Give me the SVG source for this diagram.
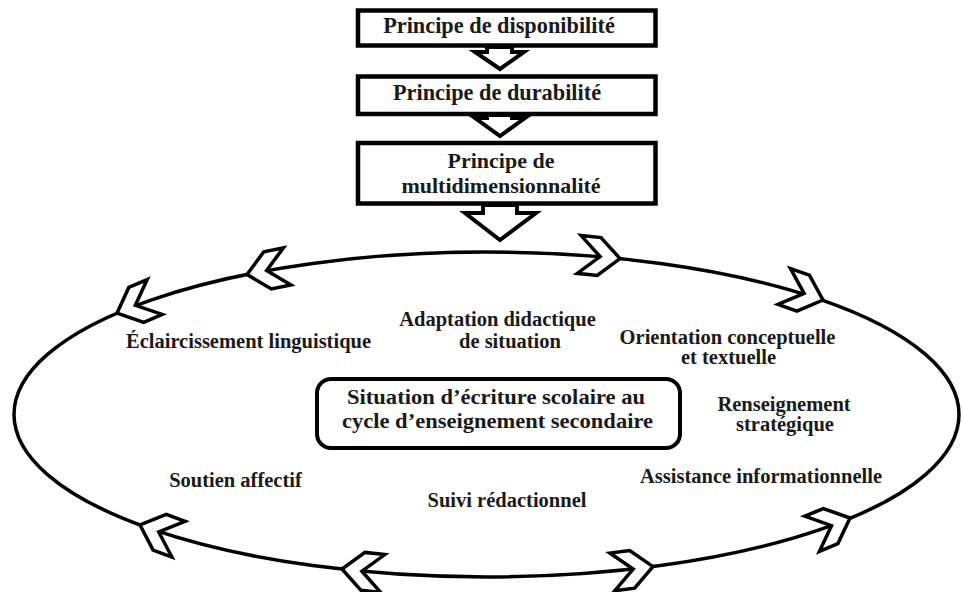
<svg xmlns="http://www.w3.org/2000/svg" width="963" height="592" viewBox="0 0 963 592">
<defs>
<style>
.box{fill:#fff;stroke:#000;stroke-width:4.5}
.cbox{fill:#fff;stroke:#000;stroke-width:4}
.arr{fill:#fff;stroke:#000;stroke-width:4;stroke-linejoin:miter}
.ell{fill:none;stroke:#000;stroke-width:3.5}
.chev{fill:#fff;stroke:#000;stroke-width:3.5;stroke-linejoin:miter}
text{font-family:"Liberation Serif","Times New Roman",serif;font-weight:bold;fill:#1a1a1a;text-anchor:middle}
.t1{font-size:22.3px}
.t2{font-size:20.5px}
.t3{font-size:21px}
.t4{font-size:22px}
</style>
<polygon id="chev" points="0,0 -21,-19 -41,-19 -20,0 -41,19 -21,19"/>
</defs>
<rect width="963" height="592" fill="#fff"/>

<g id="connectors">
  <ellipse class="ell" cx="486.5" cy="414.5" rx="472.5" ry="162.5"/>
  <polygon class="arr" points="487,47 487,52 475,52 500,69 524,52 512,52 512,47"/>
  <polygon class="arr" points="487,115 487,118 475,118 500,136 525,118 512,118 512,115"/>
  <polygon class="arr" points="483,205 483,213 465,213 500,240 536,213 517,213 517,205"/>
  <use href="#chev" class="chev" transform="translate(247,274.5) rotate(168.6)"/>
  <use href="#chev" class="chev" transform="translate(117,313.2) rotate(156.7)"/>
  <use href="#chev" class="chev" transform="translate(620,258.6) rotate(5.8)"/>
  <use href="#chev" class="chev" transform="translate(823,300) rotate(19.2)"/>
  <use href="#chev" class="chev" transform="translate(850,518) rotate(-22.6)"/>
  <use href="#chev" class="chev" transform="translate(653,566.6) rotate(-7.4)"/>
  <use href="#chev" class="chev" transform="translate(342,569) rotate(186.3)"/>
  <use href="#chev" class="chev" transform="translate(140,525) rotate(200.3)"/>
</g>

<g id="box1">
  <rect class="box" x="358" y="10.5" width="297.5" height="35"/>
  <text class="t1" x="499" y="33">Principe de disponibilité</text>
</g>
<g id="box2">
  <rect class="box" x="358" y="76.5" width="297.5" height="37.5"/>
  <text class="t1" x="497" y="100">Principe de durabilité</text>
</g>
<g id="box3">
  <rect class="box" x="358" y="143" width="297.5" height="60.5"/>
  <text class="t4" x="501" y="168">Principe de</text>
  <text class="t4" x="501" y="193">multidimensionnalité</text>
</g>
<g id="center">
  <rect class="cbox" x="317" y="379" width="363" height="69" rx="14"/>
  <text class="t3" x="496" y="403.5" textLength="298" lengthAdjust="spacingAndGlyphs">Situation d’écriture scolaire au</text>
  <text class="t3" x="497.5" y="427.5" textLength="311" lengthAdjust="spacingAndGlyphs">cycle d’enseignement secondaire</text>
</g>
<g id="eclaircissement">
  <text class="t2" x="248.5" y="348">Éclaircissement linguistique</text>
</g>
<g id="adaptation">
  <text class="t2" x="497.5" y="326">Adaptation didactique</text>
  <text class="t2" x="510" y="348">de situation</text>
</g>
<g id="orientation">
  <text class="t2" x="727.5" y="344">Orientation conceptuelle</text>
  <text class="t2" x="728.5" y="364">et textuelle</text>
</g>
<g id="renseignement">
  <text class="t2" x="784" y="411">Renseignement</text>
  <text class="t2" x="785" y="431">stratégique</text>
</g>
<g id="assistance">
  <text class="t2" x="761" y="483">Assistance informationnelle</text>
</g>
<g id="soutien">
  <text class="t2" x="235.5" y="487">Soutien affectif</text>
</g>
<g id="suivi">
  <text class="t2" x="507" y="507">Suivi rédactionnel</text>
</g>
</svg>
